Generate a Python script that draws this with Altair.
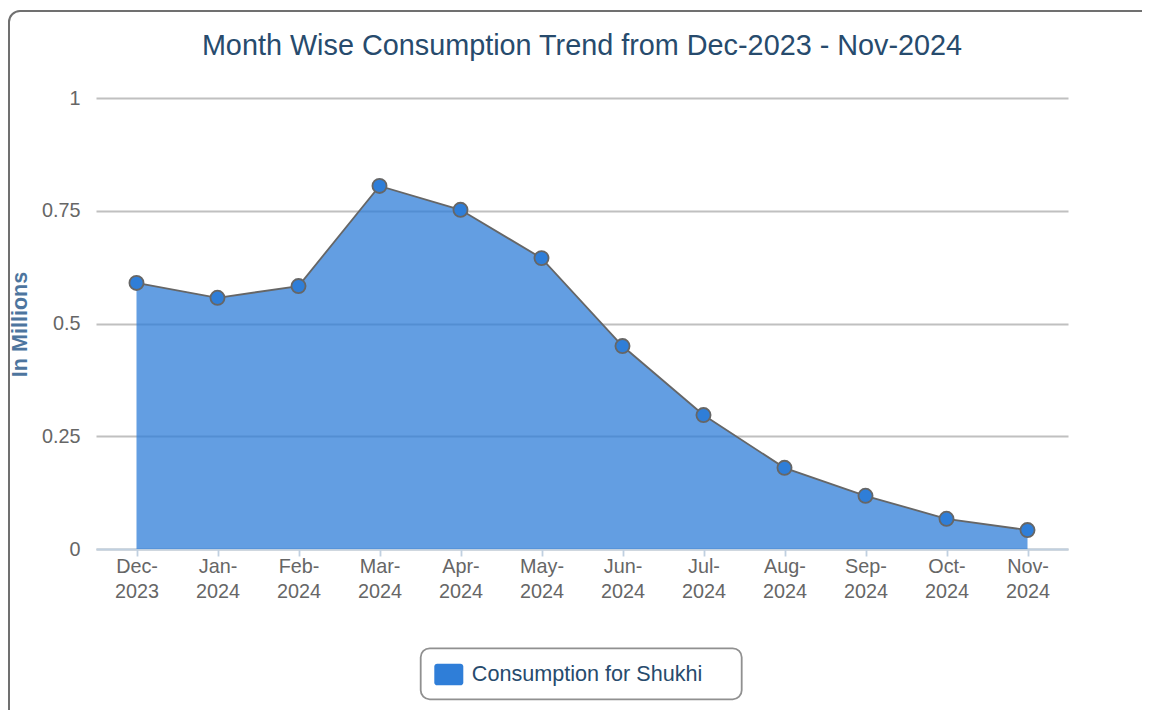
import altair as alt
import pandas as pd

months = ["Dec-2023", "Jan-2024", "Feb-2024", "Mar-2024", "Apr-2024", "May-2024",
          "Jun-2024", "Jul-2024", "Aug-2024", "Sep-2024", "Oct-2024", "Nov-2024"]
consumption = [0.590, 0.557, 0.583, 0.805, 0.752, 0.645, 0.450, 0.297, 0.180, 0.118, 0.067, 0.042]
series_name = "Consumption for Shukhi"
y_ticks = [0, 0.25, 0.5, 0.75, 1]

df = pd.DataFrame({"month": months, "value": consumption, "series": [series_name] * len(months)})

FONT = "Liberation Sans, Arial, Helvetica, sans-serif"
W, H = 972, 451

x_enc = alt.X(
    "month:O", sort=months,
    scale=alt.Scale(type="point", padding=0.5),
    axis=alt.Axis(
        title=None, labelAngle=0, labelFont=FONT, labelFontSize=19.8, labelColor="#666666",
        labelExpr="[slice(datum.label, 0, 4), slice(datum.label, 4)]",
        labelBaseline="alphabetic", labelLineHeight=25.6, labelPadding=16,
        domainColor="#C0D0E0", domainWidth=1.8, tickColor="#C0D0E0", tickWidth=1.8,
        tickSize=7, grid=False,
    ),
)
y_enc = alt.Y(
    "value:Q",
    scale=alt.Scale(domain=[0, 1], nice=False),
    axis=alt.Axis(
        title="In Millions", values=y_ticks, format=".2~f",
        labelFont=FONT, labelFontSize=19.8, labelColor="#666666", labelPadding=16,
        domain=False, ticks=False, gridColor="#C0C0C0", gridWidth=1.8,
        titleFont=FONT, titleFontSize=21.6, titleFontWeight="bold", titleColor="#4d759e",
        titleAngle=270, titleX=-70, titleY=226, titleAlign="center", titleBaseline="alphabetic",
    ),
)

legend_symbol = ("M-0.8,-0.745 H0.8 A0.2,0.2 0 0 1 1,-0.545 V0.545 A0.2,0.2 0 0 1 0.8,0.745 "
                 "H-0.8 A0.2,0.2 0 0 1 -1,0.545 V-0.545 A0.2,0.2 0 0 1 -0.8,-0.745 Z")

base = alt.Chart(df)

area = base.mark_area(fillOpacity=0.75, strokeWidth=0).encode(
    x=x_enc, y=y_enc,
    color=alt.Color(
        "series:N", scale=alt.Scale(range=["#2f7ed8"]),
        legend=alt.Legend(
            title=None, orient="none", legendX=338.3, legendY=562, padding=0,
            symbolType=legend_symbol, symbolSize=841, symbolOpacity=1, symbolStrokeWidth=0,
            symbolFillColor="#2f7ed8",
            labelFont=FONT, labelFontSize=21.6, labelColor="#274b6d", labelOffset=8.5,
            labelLimit=400,
        ),
    ),
)

line = base.mark_line(color="#666666", strokeWidth=1.8).encode(x=x_enc, y=y_enc)
points = base.mark_point(filled=True, fill="#2f7ed8", stroke="#666666", strokeWidth=1.8,
                         size=200, opacity=1, shape="circle").encode(x=x_enc, y=y_enc)

one = pd.DataFrame({"k": [0]})
legend_frame = alt.Chart(one).mark_rect(filled=False, stroke="#909090", strokeWidth=1.8,
                                        cornerRadius=9).encode(
    x=alt.value(324.7), x2=alt.value(645.7), y=alt.value(550.3), y2=alt.value(601.3))
outer_frame = alt.Chart(one).mark_rect(filled=False, stroke="#707070", strokeWidth=2,
                                       cornerRadius=11).encode(
    x=alt.value(-87), x2=alt.value(1080), y=alt.value(-87), y2=alt.value(660))

chart = alt.layer(outer_frame, area, line, points, legend_frame).properties(
    width=W, height=H,
    title=alt.Title("Month Wise Consumption Trend from Dec-2023 - Nov-2024",
                    font=FONT, fontSize=28.8, fontWeight="normal", color="#274b6d",
                    anchor="middle", frame="group", baseline="alphabetic", offset=-74),
    autosize=alt.AutoSizeParams(type="none"),
    padding={"left": 88, "top": 90, "right": 74, "bottom": 161},
    background="white",
).configure_view(stroke=None)

chart.save("out.html", embed_options={"renderer": "svg", "actions": False})
